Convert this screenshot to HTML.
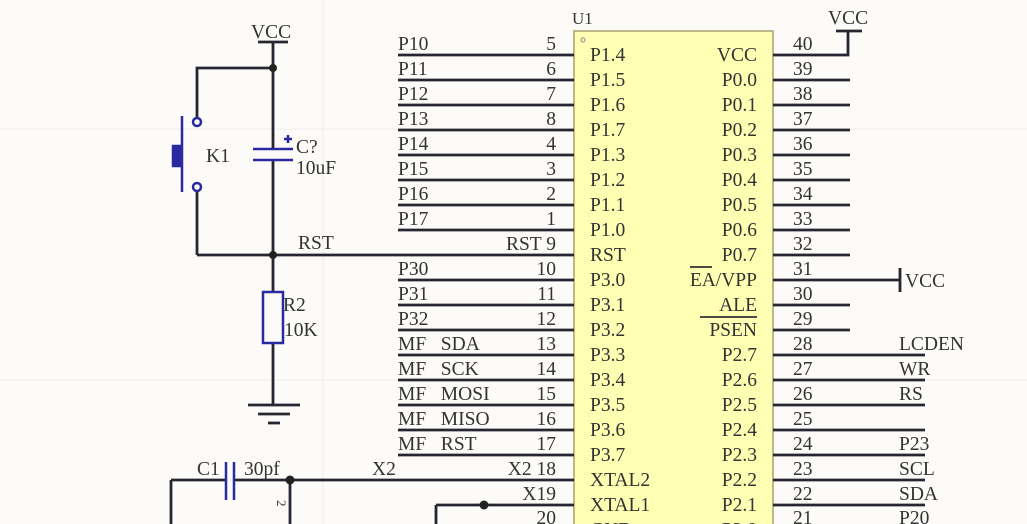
<!DOCTYPE html>
<html><head><meta charset="utf-8"><style>
html,body{margin:0;padding:0;background:#fcfbf8;}
svg{display:block;}
text{font-family:"Liberation Serif",serif;font-size:19.5px;fill:#333;}
</style></head><body>
<svg width="1027" height="524" viewBox="0 0 1027 524" xmlns="http://www.w3.org/2000/svg">
<rect width="1027" height="524" fill="#fcfbf8"/>
<line x1="323" y1="0" x2="323" y2="524" stroke="#efeeea"/>
<line x1="0" y1="129" x2="1027" y2="129" stroke="#efeeea"/>
<line x1="0" y1="380" x2="1027" y2="380" stroke="#efeeea"/>
<rect x="574" y="31" width="199" height="500" fill="#ffffb4" stroke="#a8a070" stroke-width="1.5"/>
<text x="572" y="24" style="font-size:17px">U1</text>
<circle cx="583" cy="40" r="2" fill="none" stroke="#888"/>
<g stroke="#262633" stroke-width="2.8">
<line x1="398" y1="55" x2="574" y2="55"/><line x1="398" y1="80" x2="574" y2="80"/>
<line x1="398" y1="105" x2="574" y2="105"/><line x1="398" y1="130" x2="574" y2="130"/>
<line x1="398" y1="155" x2="574" y2="155"/><line x1="398" y1="180" x2="574" y2="180"/>
<line x1="398" y1="205" x2="574" y2="205"/><line x1="398" y1="230" x2="574" y2="230"/>
<line x1="197" y1="255" x2="574" y2="255"/>
<line x1="398" y1="280" x2="574" y2="280"/><line x1="398" y1="305" x2="574" y2="305"/>
<line x1="398" y1="330" x2="574" y2="330"/><line x1="398" y1="355" x2="574" y2="355"/>
<line x1="398" y1="380" x2="574" y2="380"/><line x1="398" y1="405" x2="574" y2="405"/>
<line x1="398" y1="430" x2="574" y2="430"/><line x1="398" y1="455" x2="574" y2="455"/>
<line x1="234" y1="480" x2="574" y2="480"/>
<line x1="436" y1="505" x2="574" y2="505"/>
<line x1="171" y1="480" x2="226" y2="480"/>
<line x1="171" y1="480" x2="171" y2="524"/>
<line x1="290" y1="480" x2="290" y2="524"/>
<line x1="436" y1="505" x2="436" y2="524"/>
<polyline points="773,55 848,55 848,31" fill="none"/>
<line x1="836" y1="31" x2="862" y2="31"/>
<line x1="773" y1="80" x2="850" y2="80"/><line x1="773" y1="105" x2="850" y2="105"/>
<line x1="773" y1="130" x2="850" y2="130"/><line x1="773" y1="155" x2="850" y2="155"/>
<line x1="773" y1="180" x2="850" y2="180"/><line x1="773" y1="205" x2="850" y2="205"/>
<line x1="773" y1="230" x2="850" y2="230"/><line x1="773" y1="255" x2="850" y2="255"/>
<line x1="773" y1="280" x2="900" y2="280"/><line x1="900" y1="268" x2="900" y2="292"/>
<line x1="773" y1="305" x2="850" y2="305"/><line x1="773" y1="330" x2="850" y2="330"/>
<line x1="773" y1="355" x2="925" y2="355"/><line x1="773" y1="380" x2="925" y2="380"/>
<line x1="773" y1="405" x2="925" y2="405"/><line x1="773" y1="430" x2="925" y2="430"/>
<line x1="773" y1="455" x2="925" y2="455"/><line x1="773" y1="480" x2="925" y2="480"/>
<line x1="773" y1="505" x2="925" y2="505"/>
<line x1="258" y1="42" x2="288" y2="42"/>
<line x1="273" y1="42" x2="273" y2="149"/>
<line x1="273" y1="160" x2="273" y2="292"/>
<line x1="273" y1="343" x2="273" y2="404"/>
<polyline points="273,68 197,68 197,117" fill="none"/>
<line x1="197" y1="192" x2="197" y2="255"/>
<line x1="248" y1="405" x2="300" y2="405"/>
<line x1="258" y1="414" x2="290" y2="414"/>
<line x1="268" y1="423" x2="280" y2="423"/>
</g>
<g fill="#222"><circle cx="273" cy="68" r="4"/><circle cx="273" cy="255" r="4"/><circle cx="290" cy="480" r="4.5"/><circle cx="484" cy="505" r="4.5"/></g>
<g stroke="#2a2aa0" stroke-width="2.5" fill="none">
<circle cx="197" cy="122" r="4"/><circle cx="197" cy="187" r="4"/>
<line x1="182" y1="116" x2="182" y2="192"/>
<rect x="173" y="146" width="8" height="20" fill="#2a2aa0"/>
<line x1="253" y1="149" x2="293" y2="149"/><line x1="253" y1="160" x2="293" y2="160"/>
<line x1="284" y1="139" x2="292" y2="139"/><line x1="288" y1="135" x2="288" y2="143"/>
<rect x="263" y="292" width="20" height="51"/>
<line x1="226" y1="462" x2="226" y2="500"/><line x1="234" y1="462" x2="234" y2="500"/>
</g>
<text x="251" y="38">VCC</text>
<text x="206" y="162">K1</text>
<text x="296" y="153">C?</text>
<text x="296" y="174">10uF</text>
<text x="298" y="249">RST</text>
<text x="283" y="311">R2</text>
<text x="284" y="336">10K</text>
<text x="197" y="475">C1</text>
<text x="244" y="475">30pf</text>
<text x="372" y="475">X2</text>
<text x="283" y="506" style="font-size:13px" transform="rotate(90 283 500)">2</text>
<g>
<text x="398" y="50">P10</text><text x="398" y="75">P11</text><text x="398" y="100">P12</text>
<text x="398" y="125">P13</text><text x="398" y="150">P14</text><text x="398" y="175">P15</text>
<text x="398" y="200">P16</text><text x="398" y="225">P17</text>
<text x="398" y="275">P30</text><text x="398" y="300">P31</text><text x="398" y="325">P32</text>
<text x="398" y="350">MF&#160;&#160;&#160;SDA</text><text x="398" y="375">MF&#160;&#160;&#160;SCK</text><text x="398" y="400">MF&#160;&#160;&#160;MOSI</text>
<text x="398" y="425">MF&#160;&#160;&#160;MISO</text><text x="398" y="450">MF&#160;&#160;&#160;RST</text>
</g>
<g text-anchor="end">
<text x="556" y="50">5</text><text x="556" y="75">6</text><text x="556" y="100">7</text>
<text x="556" y="125">8</text><text x="556" y="150">4</text><text x="556" y="175">3</text>
<text x="556" y="200">2</text><text x="556" y="225">1</text><text x="556" y="250">RST 9</text>
<text x="556" y="275">10</text><text x="556" y="300">11</text><text x="556" y="325">12</text>
<text x="556" y="350">13</text><text x="556" y="375">14</text><text x="556" y="400">15</text>
<text x="556" y="425">16</text><text x="556" y="450">17</text><text x="556" y="475">X2 18</text>
<text x="556" y="500">X19</text><text x="556" y="524">20</text>
</g>
<g>
<text x="590" y="61">P1.4</text><text x="590" y="86">P1.5</text><text x="590" y="111">P1.6</text>
<text x="590" y="136">P1.7</text><text x="590" y="161">P1.3</text><text x="590" y="186">P1.2</text>
<text x="590" y="211">P1.1</text><text x="590" y="236">P1.0</text><text x="590" y="261">RST</text>
<text x="590" y="286">P3.0</text><text x="590" y="311">P3.1</text><text x="590" y="336">P3.2</text>
<text x="590" y="361">P3.3</text><text x="590" y="386">P3.4</text><text x="590" y="411">P3.5</text>
<text x="590" y="436">P3.6</text><text x="590" y="461">P3.7</text><text x="590" y="486">XTAL2</text>
<text x="590" y="511">XTAL1</text><text x="590" y="536">GND</text>
</g>
<g text-anchor="end">
<text x="757" y="61">VCC</text><text x="757" y="86">P0.0</text><text x="757" y="111">P0.1</text>
<text x="757" y="136">P0.2</text><text x="757" y="161">P0.3</text><text x="757" y="186">P0.4</text>
<text x="757" y="211">P0.5</text><text x="757" y="236">P0.6</text><text x="757" y="261">P0.7</text>
<text x="757" y="286">EA/VPP</text><text x="757" y="311">ALE</text><text x="757" y="336">PSEN</text>
<text x="757" y="361">P2.7</text><text x="757" y="386">P2.6</text><text x="757" y="411">P2.5</text>
<text x="757" y="436">P2.4</text><text x="757" y="461">P2.3</text><text x="757" y="486">P2.2</text>
<text x="757" y="511">P2.1</text><text x="757" y="536">P2.0</text>
</g>
<g stroke="#333" stroke-width="1.8">
<line x1="690" y1="267" x2="712" y2="267"/>
<line x1="700" y1="317" x2="757" y2="317"/>
</g>
<g>
<text x="793" y="50">40</text><text x="793" y="75">39</text><text x="793" y="100">38</text>
<text x="793" y="125">37</text><text x="793" y="150">36</text><text x="793" y="175">35</text>
<text x="793" y="200">34</text><text x="793" y="225">33</text><text x="793" y="250">32</text>
<text x="793" y="275">31</text><text x="793" y="300">30</text><text x="793" y="325">29</text>
<text x="793" y="350">28</text><text x="793" y="375">27</text><text x="793" y="400">26</text>
<text x="793" y="425">25</text><text x="793" y="450">24</text><text x="793" y="475">23</text>
<text x="793" y="500">22</text><text x="793" y="524">21</text>
</g>
<text x="828" y="24">VCC</text>
<text x="905" y="287">VCC</text>
<text x="899" y="350">LCDEN</text><text x="899" y="375">WR</text><text x="899" y="400">RS</text>
<text x="899" y="450">P23</text><text x="899" y="475">SCL</text><text x="899" y="500">SDA</text>
<text x="899" y="524">P20</text>
</svg>
</body></html>
